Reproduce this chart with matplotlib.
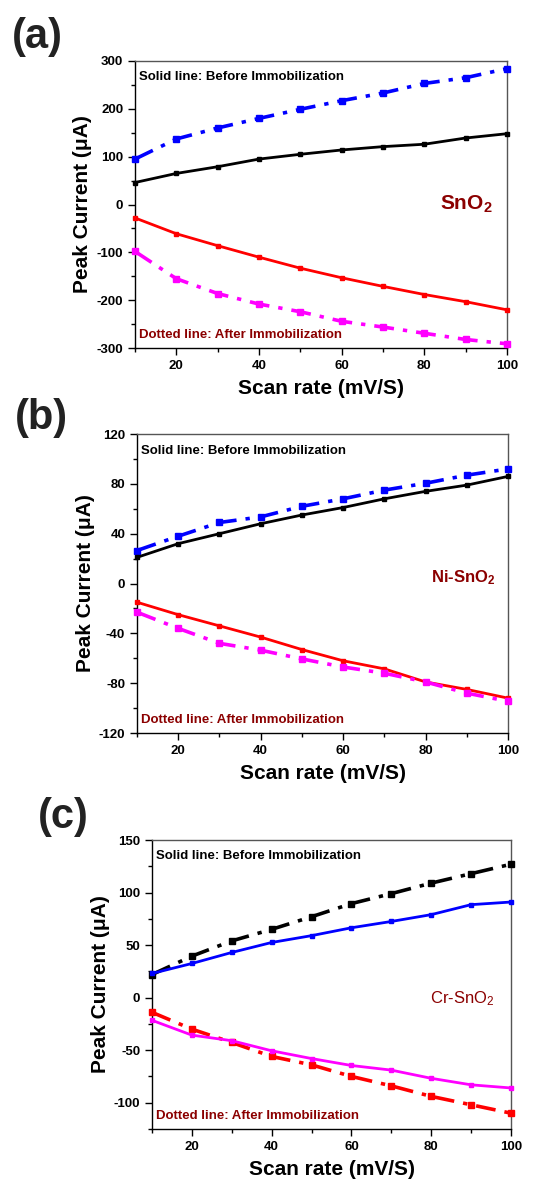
import matplotlib
matplotlib.use('Agg')
import matplotlib.pyplot as plt
from matplotlib.ticker import MultipleLocator

plt.rcParams['font.family'] = ['Liberation Sans', 'DejaVu Sans']
plt.rcParams['mathtext.fontset'] = 'custom'
plt.rcParams['mathtext.rm'] = 'Liberation Sans'
plt.rcParams['mathtext.bf'] = 'Liberation Sans:bold'
plt.rcParams['mathtext.default'] = 'regular'
plt.rcParams['axes.unicode_minus'] = False

scan_rate = [10, 20, 30, 40, 50, 60, 70, 80, 90, 100]

# (a) SnO2
a_blue = [95, 137, 160, 180, 199, 217, 233, 253, 265, 284]
a_black = [46, 65, 79, 95, 105, 114, 121, 126, 139, 148]
a_red = [-28, -61, -86, -110, -133, -153, -171, -188, -203, -220]
a_magenta = [-98, -155, -186, -208, -224, -244, -256, -269, -282, -291]

# (b) Ni-SnO2
b_blue = [26.5, 38, 49, 53.5, 62, 68, 75, 80.5, 87, 92]
b_black = [21, 32, 40, 48, 55, 61, 68, 74, 79, 86]
b_red = [-15, -25, -34, -43, -53, -62, -68.5, -79, -85, -92]
b_magenta = [-23, -36, -48, -53.5, -60.5, -67, -72, -79, -88, -94.5]

# (c) Cr-SnO2
c_black = [22, 39.5, 54, 65, 77, 89.5, 99, 109, 118, 127]
c_blue = [23, 32.5, 43, 52.5, 59, 66.5, 72.5, 79, 88.5, 91]
c_red = [-14, -30, -42.7, -56, -64, -75, -84, -94, -102, -110]
c_magenta = [-21.6, -35.7, -41, -50.6, -58, -64.6, -69, -76.8, -83, -86]

dark_red = '#8B0000'

fig = plt.figure(figsize=(5.51, 11.84), dpi=100)


def make_panel(rect, ylim, major, minor, series, tag, tag_xy, compound, comp_xy, comp_size, comp_weight):
    ax = fig.add_axes(rect)
    for y, color, style in series:
        if style == 'dashdot':
            ax.plot(scan_rate, y, color=color, lw=2.6, ls=(0, (5.5, 2.5, 1.2, 2.5)),
                    marker='s', ms=4, clip_on=False, zorder=3)
        else:
            ax.plot(scan_rate, y, color=color, lw=2.0, ls='-',
                    marker='s', ms=3.5, clip_on=False, zorder=3)
    ax.set_xlim(10, 100)
    ax.set_ylim(*ylim)
    ax.xaxis.set_major_locator(MultipleLocator(20))
    ax.xaxis.set_minor_locator(MultipleLocator(10))
    ax.yaxis.set_major_locator(MultipleLocator(major))
    ax.yaxis.set_minor_locator(MultipleLocator(minor))
    ax.tick_params(which='both', direction='out', top=False, right=False, width=1)
    ax.tick_params(which='major', length=5, labelsize=9.5)
    ax.tick_params(which='minor', length=3)
    for lab in ax.get_xticklabels() + ax.get_yticklabels():
        lab.set_fontweight('bold')
    for s in ['top', 'right']:
        ax.spines[s].set_color('#555555')
    for s in ax.spines.values():
        s.set_linewidth(1.0)
    ax.set_xlabel('Scan rate (mV/S)', fontsize=15, fontweight='bold', labelpad=5)
    ax.set_ylabel('Peak Current (μA)', fontsize=15, fontweight='bold', labelpad=3)
    ax.text(0.012, 0.965, 'Solid line: Before Immobilization', transform=ax.transAxes,
            fontsize=9.5, fontweight='bold', color='black', va='top', ha='left')
    ax.text(0.012, 0.045, 'Dotted line: After Immobilization', transform=ax.transAxes,
            fontsize=9.5, fontweight='bold', color=dark_red, va='center', ha='left')
    ax.text(comp_xy[0], comp_xy[1], compound, transform=ax.transAxes,
            fontsize=comp_size, fontweight=comp_weight, color=dark_red, ha='center', va='center')
    fig.text(tag_xy[0], tag_xy[1], tag, fontsize=30, fontweight='bold', color='#222222',
             ha='left', va='top')
    return ax


make_panel([0.245, 0.706, 0.675, 0.2425], (-300, 300), 100, 50,
           [(a_blue, 'blue', 'dashdot'), (a_black, 'black', 'solid'),
            (a_red, 'red', 'solid'), (a_magenta, 'magenta', 'dashdot')],
           '(a)', (0.022, 0.986), 'SnO$_2$', (0.89, 0.5), 15, 'bold')

make_panel([0.2486, 0.3809, 0.6734, 0.2525], (-120, 120), 40, 20,
           [(b_blue, 'blue', 'dashdot'), (b_black, 'black', 'solid'),
            (b_red, 'red', 'solid'), (b_magenta, 'magenta', 'dashdot')],
           '(b)', (0.027, 0.664), 'Ni-SnO$_2$', (0.88, 0.52), 12, 'bold')

make_panel([0.2759, 0.0465, 0.6515, 0.244], (-125, 150), 50, 25,
           [(c_black, 'black', 'dashdot'), (c_blue, 'blue', 'solid'),
            (c_red, 'red', 'dashdot'), (c_magenta, 'magenta', 'solid')],
           '(c)', (0.068, 0.327), 'Cr-SnO$_2$', (0.865, 0.45), 12, 'normal')

fig.savefig('out.png', dpi=100)
